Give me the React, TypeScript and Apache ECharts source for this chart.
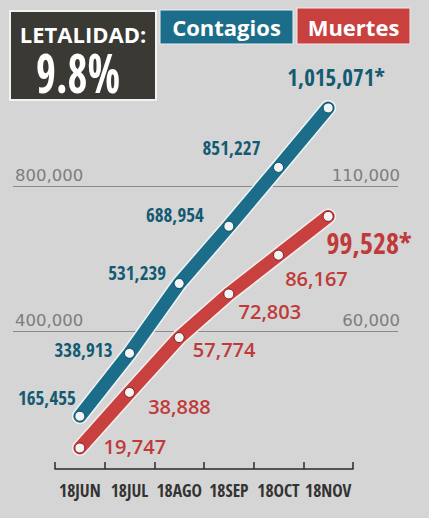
import React, { useEffect, useRef } from 'react';
import * as echarts from 'echarts';

// ---- data ----
const categories = ['18JUN', '18JUL', '18AGO', '18SEP', '18OCT', '18NOV'];
const contagios = [165455, 338913, 531239, 688954, 851227, 1015071];
const muertes = [19747, 38888, 57774, 72803, 86167, 99528];
const leftTickLabels = [400000, 800000];
const rightTickLabels = [60000, 110000];
const letalidadTitle = 'LETALIDAD:';
const letalidadValue = '9.8%';
const seriesNames = ['Contagios', 'Muertes'];

// ---- styles / layout ----
const W = 429;
const H = 518;
const BG = '#d5d5d5';
const TEAL = '#1c6d8a';
const TEAL_TEXT = '#135a73';
const RED = '#c9413f';
const RED_TEXT = '#bf3a39';
const COND = '"Open Sans Condensed", "Roboto Condensed", "Open Sans", sans-serif';
const SANS = '"Open Sans", "Noto Sans", sans-serif';
const AXIS_FONT = '"DejaVu Sans", "Open Sans", sans-serif';

const PLOT_LEFT = 55;
const PLOT_RIGHT = 353;
const PLOT_TOP = 59;
const AXIS_Y = 469;
const LMIN = 20000;
const LMAX = 1150000;
const RMIN = 12500;
const RMAX = 153750;
const G0_LMAX = 1200000;
const pxPerUnit = (AXIS_Y - PLOT_TOP) / (LMAX - LMIN);
const g0Bottom = AXIS_Y + LMIN * pxPerUnit;
const g0Top = g0Bottom - G0_LMAX * pxPerUnit;

const tealLabelOffsets = [[-33, -18], [-46, -3], [-42, -11], [-54, -11], [-47, -19], [8, -31]];
const redLabelOffsets = [[55, -1], [50, 14], [45, 12], [41, 18], [38, 23], [41, 27]];

const fmt = (v: number) => v.toLocaleString('en-US');

export default function App() {
  const ref = useRef<HTMLDivElement>(null);
  useEffect(() => {
    if (!ref.current) return;
    const chart = echarts.init(ref.current, undefined, { renderer: 'svg' });
    const last = categories.length - 1;

    const tealData = contagios.map((v, i) => ({
      value: v,
      label: {
        offset: tealLabelOffsets[i],
        fontSize: i === last ? 23 : 19,
      },
    }));
    const redData = muertes.map((v, i) => ({
      value: v,
      label: {
        offset: redLabelOffsets[i],
        fontSize: i === last ? 28 : 20,
        fontFamily: i === last ? COND : SANS,
        fontWeight: i === last ? 'bold' : 600,
      },
    }));

    chart.setOption({
      animation: false,
      backgroundColor: BG,
      grid: [
        {
          left: PLOT_LEFT,
          right: W - PLOT_RIGHT,
          top: PLOT_TOP,
          bottom: H - AXIS_Y,
          outerBoundsMode: 'none',
        },
        {
          left: 13,
          right: W - 398,
          top: g0Top,
          bottom: H - g0Bottom,
          outerBoundsMode: 'none',
          z: 0,
        },
      ],
      xAxis: [
        {
          type: 'category',
          gridIndex: 0,
          data: categories,
          boundaryGap: true,
          axisLine: { show: true, lineStyle: { color: '#2a2a2a', width: 1.5 } },
          axisTick: { show: true, inside: true, length: 7, lineStyle: { color: '#2a2a2a', width: 1.5 } },
          axisLabel: {
            interval: 0,
            color: '#333333',
            fontFamily: COND,
            fontWeight: 'bold',
            fontSize: 17.5,
            margin: 12,
          },
          splitLine: { show: false },
        },
        { type: 'value', gridIndex: 1, show: false, min: 0, max: 1 },
      ],
      yAxis: [
        { type: 'value', gridIndex: 0, min: LMIN, max: LMAX, show: false, splitLine: { show: false } },
        { type: 'value', gridIndex: 0, min: RMIN, max: RMAX, show: false, position: 'right', splitLine: { show: false } },
        {
          type: 'value',
          gridIndex: 1,
          min: 0,
          max: G0_LMAX,
          interval: 400000,
          axisLine: { show: false },
          axisTick: { show: false },
          splitLine: {
            show: true,
            showMinLine: false,
            showMaxLine: false,
            lineStyle: { color: '#8a8a8a', width: 1 },
          },
          axisLabel: {
            inside: true,
            margin: 2,
            verticalAlign: 'bottom',
            padding: [0, 0, 2, 0],
            color: '#7d7d7d',
            fontFamily: AXIS_FONT,
            fontSize: 16.5,
            formatter: (v: number) => (leftTickLabels.includes(v) ? fmt(v) : ''),
          },
        },
        {
          type: 'value',
          gridIndex: 1,
          position: 'right',
          min: 10000,
          max: 160000,
          interval: 10000,
          axisLine: { show: false },
          axisTick: { show: false },
          splitLine: { show: false },
          axisLabel: {
            inside: true,
            margin: -2,
            verticalAlign: 'bottom',
            padding: [0, 0, 2, 0],
            color: '#7d7d7d',
            fontFamily: AXIS_FONT,
            fontSize: 16.5,
            formatter: (v: number) => (rightTickLabels.includes(v) ? fmt(v) : ''),
          },
        },
      ],
      series: [
        {
          type: 'line',
          xAxisIndex: 0,
          yAxisIndex: 0,
          data: contagios,
          symbol: 'none',
          silent: true,
          z: 2,
          lineStyle: { color: '#eef4f6', width: 16, cap: 'round' },
        },
        {
          name: seriesNames[0],
          type: 'line',
          xAxisIndex: 0,
          yAxisIndex: 0,
          data: tealData,
          z: 3,
          symbol: 'circle',
          symbolSize: 10,
          lineStyle: { color: TEAL, width: 13, cap: 'round' },
          itemStyle: { color: '#f4f4f4', borderColor: '#0d4a60', borderWidth: 1 },
          label: {
            show: true,
            position: 'inside',
            align: 'center',
            verticalAlign: 'middle',
            color: TEAL_TEXT,
            fontFamily: COND,
            fontWeight: 'bold',
            formatter: (p: any) => fmt(p.value) + (p.dataIndex === last ? '*' : ''),
          },
        },
        {
          type: 'line',
          xAxisIndex: 0,
          yAxisIndex: 1,
          data: muertes,
          symbol: 'none',
          silent: true,
          z: 2,
          lineStyle: { color: '#f6eeee', width: 16, cap: 'round' },
        },
        {
          name: seriesNames[1],
          type: 'line',
          xAxisIndex: 0,
          yAxisIndex: 1,
          data: redData,
          z: 3,
          symbol: 'circle',
          symbolSize: 10,
          lineStyle: { color: RED, width: 13, cap: 'round' },
          itemStyle: { color: '#f4f4f4', borderColor: '#7a1f1e', borderWidth: 1 },
          label: {
            show: true,
            position: 'inside',
            align: 'center',
            verticalAlign: 'middle',
            color: RED_TEXT,
            formatter: (p: any) => fmt(p.value) + (p.dataIndex === last ? '*' : ''),
          },
        },
      ],
      graphic: [
        {
          type: 'rect',
          shape: { x: 10, y: 11, width: 146, height: 89 },
          style: { fill: '#3a3934', stroke: '#f2f2f2', lineWidth: 2 },
        },
        {
          type: 'text',
          x: 83,
          y: 34,
          style: {
            text: letalidadTitle,
            fill: '#ffffff',
            font: `bold 22px ${SANS}`,
            textAlign: 'center',
            textVerticalAlign: 'middle',
          },
        },
        {
          type: 'text',
          x: 78,
          y: 72,
          scaleY: 1.25,
          style: {
            text: letalidadValue,
            fill: '#ffffff',
            font: `bold 43px ${COND}`,
            textAlign: 'center',
            textVerticalAlign: 'middle',
          },
        },
        {
          type: 'rect',
          shape: { x: 160, y: 10, width: 133, height: 34 },
          style: { fill: TEAL, stroke: '#e8f0f2', lineWidth: 1 },
        },
        {
          type: 'text',
          x: 226.5,
          y: 27,
          style: {
            text: seriesNames[0],
            fill: '#ffffff',
            font: `bold 22px ${SANS}`,
            textAlign: 'center',
            textVerticalAlign: 'middle',
          },
        },
        {
          type: 'rect',
          shape: { x: 297, y: 8, width: 113, height: 36 },
          style: { fill: RED, stroke: '#f2e8e8', lineWidth: 1 },
        },
        {
          type: 'text',
          x: 353.5,
          y: 27,
          style: {
            text: seriesNames[1],
            fill: '#ffffff',
            font: `bold 22px ${SANS}`,
            textAlign: 'center',
            textVerticalAlign: 'middle',
          },
        },
      ],
    });
    return () => chart.dispose();
  }, []);

  return (
    <div
      ref={ref}
      style={{ position: 'absolute', left: 0, top: 0, width: W, height: H, background: BG }}
    />
  );
}
